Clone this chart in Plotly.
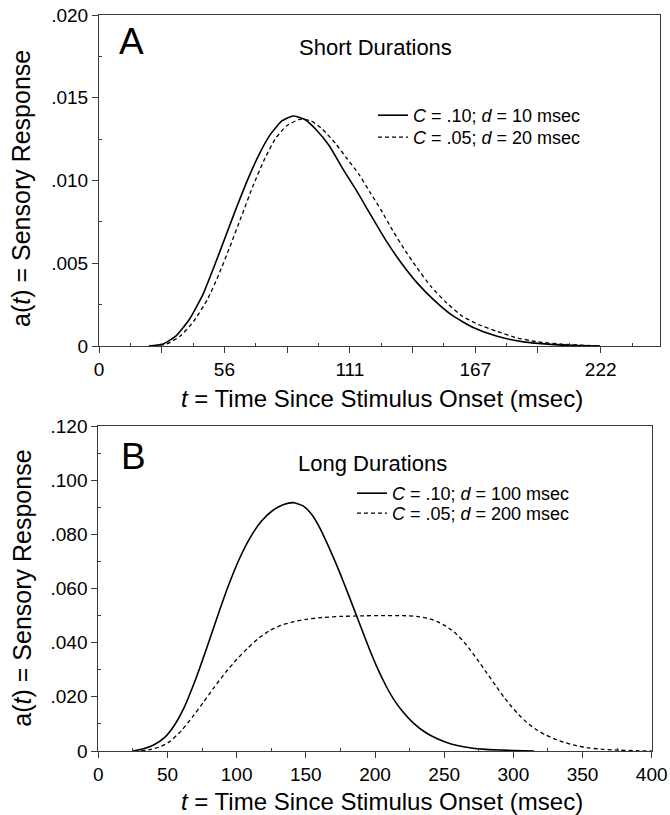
import plotly.graph_objects as go

# ---------------- data ----------------
# Panel A: short durations
t_a_solid = [22, 28, 34, 40, 46, 51, 56, 61, 66, 71, 76, 81, 86, 91, 96, 102, 108, 114, 120, 127, 134, 141,
             149, 157, 166, 176, 188, 200, 212, 222]
v_a_solid = [0, 0.0001, 0.0006, 0.0016, 0.0031, 0.0048, 0.0066, 0.0084, 0.0101, 0.0116, 0.0128, 0.0136,
             0.0139, 0.0137, 0.0131, 0.0121, 0.0107, 0.0094, 0.0080, 0.0064, 0.0050, 0.0038, 0.0027, 0.0018,
             0.0011, 0.0006, 0.00025, 0.0001, 0.00003, 0]
t_a_dash = [24, 30, 36, 42, 48, 53, 58, 63, 68, 73, 78, 83, 89, 94, 99, 105, 110, 115, 120, 125, 130, 135,
            141, 147, 154, 161, 168, 176, 185, 194, 206, 222]
v_a_dash = [0, 0.00012, 0.0006, 0.0015, 0.0028, 0.0043, 0.0060, 0.0078, 0.0096, 0.0112, 0.0125, 0.0133,
            0.0137, 0.0136, 0.0131, 0.0122, 0.0113, 0.0104, 0.0093, 0.0082, 0.0070, 0.0059, 0.0047, 0.0036,
            0.0026, 0.0018, 0.0013, 0.0009, 0.0005, 0.00026, 0.0001, 0]

# Panel B: long durations
t_b_solid = [25, 32, 40, 48, 55, 62, 70, 78, 86, 94, 102, 110, 118, 126, 134, 141, 148, 154, 160, 166, 172,
             178, 184, 190, 196, 202, 208, 214, 220, 228, 236, 245, 255, 265, 280, 300, 315]
v_b_solid = [0, 0.0007, 0.0022, 0.0050, 0.0095, 0.0160, 0.0260, 0.0375, 0.0495, 0.0610, 0.0710, 0.0790,
             0.0849, 0.0888, 0.0910, 0.0917, 0.0905, 0.0875, 0.0825, 0.0760, 0.0690, 0.0614, 0.0535, 0.0455,
             0.0376, 0.0303, 0.0240, 0.0187, 0.0146, 0.0102, 0.0070, 0.0045, 0.0026, 0.0015, 0.0006, 0.0002, 0]
t_b_dash = [31, 38, 45, 52, 60, 68, 76, 84, 92, 100, 108, 116, 124, 132, 140, 150, 162, 175, 190, 205, 220,
            230, 238, 245, 251, 257, 263, 269, 275, 281, 287, 293, 299, 305, 311, 317, 323, 330, 338, 346,
            355, 365, 377, 389, 400]
v_b_dash = [0, 0.0006, 0.0016, 0.0036, 0.0075, 0.0125, 0.0180, 0.0237, 0.0290, 0.0338, 0.0380, 0.0417,
            0.0445, 0.0464, 0.0476, 0.0486, 0.0493, 0.0497, 0.0499, 0.0500, 0.0500, 0.0497, 0.0490, 0.0478,
            0.0462, 0.0440, 0.0410, 0.0373, 0.0330, 0.0287, 0.0243, 0.0200, 0.0162, 0.0128, 0.0100, 0.0078,
            0.0060, 0.0044, 0.0030, 0.0019, 0.0011, 0.0006, 0.0003, 0.0001, 0]

names_a = ["<i>C</i> = .10; <i>d</i> = 10 msec", "<i>C</i> = .05; <i>d</i> = 20 msec"]
names_b = ["<i>C</i> = .10; <i>d</i> = 100 msec", "<i>C</i> = .05; <i>d</i> = 200 msec"]

# tick definitions
unit_a = 1000 / 36.0
xa_tickvals = [unit_a * i for i in range(9)]
xa_ticktext = ["0", "", "56", "", "111", "", "167", "", "222"]
xa_minor = [unit_a * (i + 0.5) for i in range(9)]
ya_tickvals = [0, 0.005, 0.010, 0.015, 0.020]
ya_ticktext = ["0", ".005", ".010", ".015", ".020"]
ya_minor = [0.0025, 0.0075, 0.0125, 0.0175]

xb_tickvals = [0, 50, 100, 150, 200, 250, 300, 350, 400]
xb_ticktext = ["0", "50", "100", "150", "200", "250", "300", "350", "400"]
xb_minor = [25, 75, 125, 175, 225, 275, 325, 375]
yb_tickvals = [0, 0.02, 0.04, 0.06, 0.08, 0.10, 0.12]
yb_ticktext = ["0", ".020", ".040", ".060", ".080", ".100", ".120"]
yb_minor = [0.01, 0.03, 0.05, 0.07, 0.09, 0.11]

# ---------------- figure ----------------
W, H = 670, 815
FONT = "Liberation Sans, Arial, Helvetica, sans-serif"
AX = "#3a3a3a"


def px(x):
    return x / W


def py(y):
    return 1 - y / H


SPL = dict(shape="spline", smoothing=0.5)

fig = go.Figure()
fig.add_trace(go.Scatter(x=t_a_solid, y=v_a_solid, mode="lines", name=names_a[0],
                         line=dict(color="black", width=1.6, **SPL),
                         xaxis="x", yaxis="y", legend="legend"))
fig.add_trace(go.Scatter(x=t_a_dash, y=v_a_dash, mode="lines", name=names_a[1],
                         line=dict(color="black", width=1.3, dash="4px,3px", **SPL),
                         xaxis="x", yaxis="y", legend="legend2"))
fig.add_trace(go.Scatter(x=t_b_solid, y=v_b_solid, mode="lines", name=names_b[0],
                         line=dict(color="black", width=1.6, **SPL),
                         xaxis="x2", yaxis="y2", legend="legend3"))
fig.add_trace(go.Scatter(x=t_b_dash, y=v_b_dash, mode="lines", name=names_b[1],
                         line=dict(color="black", width=1.3, dash="4px,3px", **SPL),
                         xaxis="x2", yaxis="y2", legend="legend4"))

common = dict(showline=True, linecolor=AX, linewidth=1, mirror=True, showgrid=False, zeroline=False,
              ticks="outside", ticklen=6, tickcolor=AX, tickwidth=1, automargin=False,
              tickfont=dict(family=FONT, size=19, color="black"), fixedrange=True)


def leg(x, y):
    return dict(x=px(x), y=py(y), xanchor="left", yanchor="top",
                bgcolor="rgba(0,0,0,0)", borderwidth=0, tracegroupgap=0,
                font=dict(family=FONT, size=18, color="black"))


fig.update_layout(
    width=W, height=H, autosize=False, margin=dict(l=0, r=0, t=0, b=0, pad=0),
    paper_bgcolor="white", plot_bgcolor="white",
    font=dict(family=FONT, color="black"),
    xaxis=dict(domain=[px(99), px(660)], range=[0, 248.5], anchor="y",
               tickmode="array", tickvals=xa_tickvals, ticktext=xa_ticktext,
               minor=dict(tickvals=xa_minor, ticks="inside", ticklen=3, tickcolor=AX),
               **common),
    yaxis=dict(domain=[py(346), py(15)], range=[0, 0.020], anchor="x",
               tickmode="array", tickvals=ya_tickvals, ticktext=ya_ticktext,
               minor=dict(tickvals=ya_minor, ticks="inside", ticklen=3, tickcolor=AX),
               **common),
    xaxis2=dict(domain=[px(98.3), px(651.7)], range=[0, 400], anchor="y2",
                tickmode="array", tickvals=xb_tickvals, ticktext=xb_ticktext,
                minor=dict(tickvals=xb_minor, ticks="inside", ticklen=3, tickcolor=AX),
                **common),
    yaxis2=dict(domain=[py(751), py(426)], range=[0, 0.12], anchor="x2",
                tickmode="array", tickvals=yb_tickvals, ticktext=yb_ticktext,
                minor=dict(tickvals=yb_minor, ticks="inside", ticklen=3, tickcolor=AX),
                **common),
    legend=leg(373, 97),
    legend2=leg(373, 119),
    legend3=leg(352, 475),
    legend4=leg(352, 495),
    showlegend=True,
)

ann = []
# panel letters and headings
ann.append(dict(text="A", x=px(131.5), y=py(41), font=dict(size=37)))
ann.append(dict(text="B", x=px(133.5), y=py(456), font=dict(size=37)))
ann.append(dict(text="Short Durations", x=px(298), y=py(48), xanchor="left", font=dict(size=22)))
ann.append(dict(text="Long Durations", x=px(297), y=py(463), xanchor="left", font=dict(size=22)))
# axis titles
ytitle = "a(<i>t</i>) = Sensory Response"
xtitle = "<i>t</i> = Time Since Stimulus Onset (msec)"
ann.append(dict(text=ytitle, x=px(21), y=py(189), textangle=-90, font=dict(size=25)))
ann.append(dict(text=ytitle, x=px(21.7), y=py(588), textangle=-90, font=dict(size=25)))
ann.append(dict(text=xtitle, x=px(382), y=py(398), font=dict(size=24)))
ann.append(dict(text=xtitle, x=px(382), y=py(801), font=dict(size=24)))

for a in ann:
    a.setdefault("xanchor", "center")
    a["yanchor"] = "middle"
    a["xref"] = "paper"
    a["yref"] = "paper"
    a["showarrow"] = False
    a["borderpad"] = 0
    a["font"] = dict(family=FONT, color="black", size=a["font"]["size"])
fig.update_layout(annotations=ann)

fig.write_html(
    "out.html",
    config={"displayModeBar": False, "responsive": False},
    post_script=("document.documentElement.style.overflow='hidden';"
                 "document.body.style.overflow='hidden';document.body.style.margin='0';"),
)
